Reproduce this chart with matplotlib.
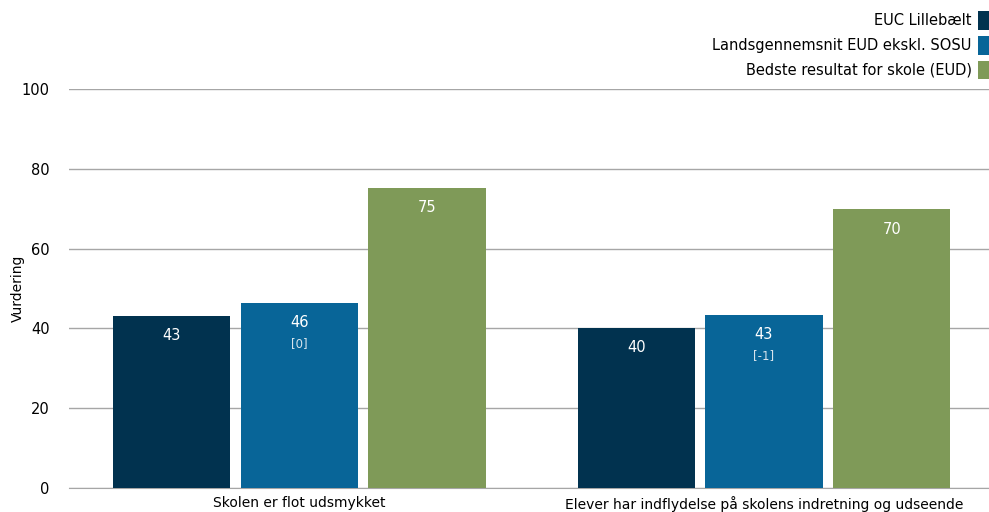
import matplotlib
matplotlib.use("Agg")
import matplotlib.pyplot as plt
from matplotlib.patches import Patch
import numpy as np

categories = ["Skolen er flot udsmykket",
              "Elever har indflydelse på skolens indretning og udseende"]
series_names = ["EUC Lillebælt", "Landsgennemsnit EUD ekskl. SOSU",
                "Bedste resultat for skole (EUD)"]
euc = [43.1, 40.1]
lands = [46.4, 43.4]
best = [75.2, 69.9]
lands_diff = ["[0]", "[-1]"]
colors = ["#01324f", "#086598", "#7f9a58"]

plt.rcParams['font.family'] = ['DejaVu Sans']
fig = plt.figure(figsize=(9.89, 5.12), dpi=100)
ax = fig.add_axes([69/989, 1-488/512, 920/989, (488-89)/512])

x = np.arange(len(categories))
w = 0.252
step = 0.275
series = [euc, lands, best]
for i, (vals, c) in enumerate(zip(series, colors)):
    pos = x + (i - 1) * step
    ax.bar(pos, vals, width=w, color=c, zorder=3)
    for j, (p, v) in enumerate(zip(pos, vals)):
        ax.text(p, v - 5, f"{v:.0f}", ha="center", va="center",
                color="white", fontsize=10.5, zorder=4)
        if i == 1:
            ax.text(p, v - 10.3, lands_diff[j], ha="center", va="center",
                    color="#d8e4ec", fontsize=8.5, zorder=4)

ax.set_xlim(-0.495, 1.484)
ax.set_ylim(0, 100)
ax.set_yticks([0, 20, 40, 60, 80, 100])
ax.yaxis.grid(True, color="#a6a6a6", linewidth=1)
ax.set_axisbelow(True)
for s in ["left", "right", "top"]:
    ax.spines[s].set_visible(False)
ax.spines["bottom"].set_color("#a6a6a6")
ax.tick_params(axis="both", length=0, labelsize=10.5, colors="black")
ax.tick_params(axis="y", pad=14)
ax.tick_params(axis="x", pad=6, labelsize=10)
ax.set_xticks(x)
ax.set_xticklabels(categories)
ax.set_ylabel("Vurdering", fontsize=10)
ax.yaxis.set_label_coords(-44/920, 0.5)

handles = [Patch(facecolor=c, edgecolor="none") for c in colors]
fig.legend(handles, series_names, loc="upper right",
           bbox_to_anchor=(1.0 + 4/989, 0.987), frameon=False, markerfirst=False,
           fontsize=10.5, handlelength=0.75, handleheight=1.6,
           handletextpad=0.4, labelspacing=0.42, borderaxespad=0.0,
           borderpad=0.3)

fig.savefig("out.png", dpi=100)
